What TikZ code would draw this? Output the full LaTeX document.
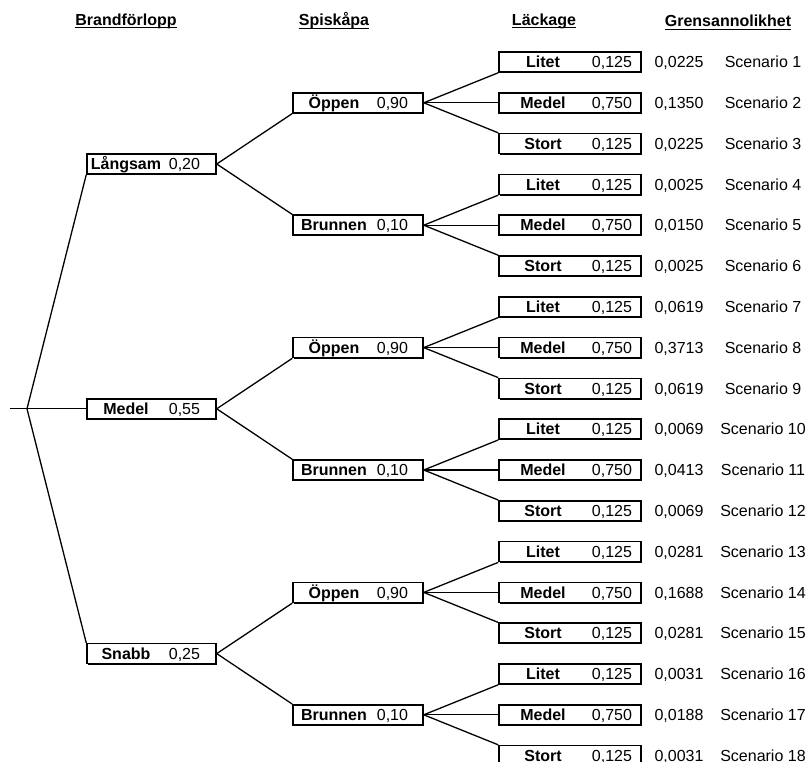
\documentclass[tikz,border=0pt]{standalone}
\usepackage{fontspec}
\setmainfont{Liberation Sans}
\usetikzlibrary{shadows,calc}

\tikzset{
  every node/.append style={font=\fontsize{16}{19}\selectfont},
  box/.style={draw, line width=1.5pt, fill=white, inner sep=0pt,
    minimum height=20pt, text height=11.5pt, text depth=0pt,
    drop shadow={shadow xshift=1.2pt, shadow yshift=-1.2pt, opacity=1, fill=black}},
  conn/.style={line width=1.3pt},
  hdr/.style={inner sep=0pt, font=\fontsize{16}{19}\selectfont\bfseries},
  val/.style={inner sep=0pt, text height=11.5pt, text depth=0pt}
}

\newcommand{\lthreetxt}[2]{\makebox[88pt][c]{\textbf{#1}}\makebox[45pt][r]{#2}\hspace*{9pt}}
\newcommand{\ltwotxt}[2]{\makebox[82pt][c]{\textbf{#1}}\makebox[33pt][r]{#2}\hspace*{15pt}}
\newcommand{\lonetxt}[2]{\makebox[78pt][c]{\textbf{#1}}\makebox[35pt][r]{#2}\hspace*{16pt}}

% name, y, label, number, probability, scenario
\newcommand{\leafrow}[6]{%
  \node[box] (#1) at (570,#2) {\lthreetxt{#3}{#4}};
  \node[val] (#1p) at (679,#2) {#5};
  \node[val] (#1s) at (763,#2) {#6};
}

\begin{document}
\begin{tikzpicture}[x=1pt,y=-1pt]
\useasboundingbox (0,0) rectangle (809,762);

% headers
\node[hdr] (h1) at (126,21) {Brandförlopp};
\node[hdr] (h2) at (334,21) {Spiskåpa};
\node[hdr] (h3) at (544,21) {Läckage};
\node[hdr] (h4) at (728,21) {Grensannolikhet};
\foreach \h in {h1,h2,h3,h4}{
  \draw[line width=1.4pt] ($(\h.base west)+(0,2.6)$) -- ($(\h.base east)+(0,2.6)$);
}

% level 3 rows
\leafrow{q1}{62.0}{Litet}{0,125}{0,0225}{Scenario 1}
\leafrow{q2}{102.8}{Medel}{0,750}{0,1350}{Scenario 2}
\leafrow{q3}{143.6}{Stort}{0,125}{0,0225}{Scenario 3}
\leafrow{q4}{184.4}{Litet}{0,125}{0,0025}{Scenario 4}
\leafrow{q5}{225.2}{Medel}{0,750}{0,0150}{Scenario 5}
\leafrow{q6}{266.0}{Stort}{0,125}{0,0025}{Scenario 6}
\leafrow{q7}{306.8}{Litet}{0,125}{0,0619}{Scenario 7}
\leafrow{q8}{347.6}{Medel}{0,750}{0,3713}{Scenario 8}
\leafrow{q9}{388.4}{Stort}{0,125}{0,0619}{Scenario 9}
\leafrow{q10}{429.2}{Litet}{0,125}{0,0069}{Scenario 10}
\leafrow{q11}{470.0}{Medel}{0,750}{0,0413}{Scenario 11}
\leafrow{q12}{510.8}{Stort}{0,125}{0,0069}{Scenario 12}
\leafrow{q13}{551.6}{Litet}{0,125}{0,0281}{Scenario 13}
\leafrow{q14}{592.4}{Medel}{0,750}{0,1688}{Scenario 14}
\leafrow{q15}{633.2}{Stort}{0,125}{0,0281}{Scenario 15}
\leafrow{q16}{674.0}{Litet}{0,125}{0,0031}{Scenario 16}
\leafrow{q17}{714.8}{Medel}{0,750}{0,0188}{Scenario 17}
\leafrow{q18}{755.6}{Stort}{0,125}{0,0031}{Scenario 18}

% level 2
\node[box] (o1) at (358,102.8) {\ltwotxt{Öppen}{0,90}};
\node[box] (b1) at (358,225.2) {\ltwotxt{Brunnen}{0,10}};
\node[box] (o2) at (358,347.6) {\ltwotxt{Öppen}{0,90}};
\node[box] (b2) at (358,470.0) {\ltwotxt{Brunnen}{0,10}};
\node[box] (o3) at (358,592.4) {\ltwotxt{Öppen}{0,90}};
\node[box] (b3) at (358,714.8) {\ltwotxt{Brunnen}{0,10}};

% level 1
\node[box] (l1) at (151.5,164.0) {\lonetxt{Långsam}{0,20}};
\node[box] (l2) at (151.5,408.8) {\lonetxt{Medel}{0,55}};
\node[box] (l3) at (151.5,653.6) {\lonetxt{Snabb}{0,25}};

% root
\coordinate (root) at (10,408.8);
\coordinate (fork) at (27,408.8);
\draw[conn] (root) -- (l2.west);
\draw[conn] (fork) -- (l1.south west);
\draw[conn] (fork) -- (l3.north west);

% level 1 -> level 2
\draw[conn] (l1.east) -- (o1.south west);
\draw[conn] (l1.east) -- (b1.north west);
\draw[conn] (l2.east) -- (o2.south west);
\draw[conn] (l2.east) -- (b2.north west);
\draw[conn] (l3.east) -- (o3.south west);
\draw[conn] (l3.east) -- (b3.north west);

% level 2 -> level 3
\draw[conn] (o1.east) -- (q1.south west);
\draw[conn] (o1.east) -- (q2.west);
\draw[conn] (o1.east) -- (q3.north west);
\draw[conn] (b1.east) -- (q4.south west);
\draw[conn] (b1.east) -- (q5.west);
\draw[conn] (b1.east) -- (q6.north west);
\draw[conn] (o2.east) -- (q7.south west);
\draw[conn] (o2.east) -- (q8.west);
\draw[conn] (o2.east) -- (q9.north west);
\draw[conn] (b2.east) -- (q10.south west);
\draw[conn] (b2.east) -- (q11.west);
\draw[conn] (b2.east) -- (q12.north west);
\draw[conn] (o3.east) -- (q13.south west);
\draw[conn] (o3.east) -- (q14.west);
\draw[conn] (o3.east) -- (q15.north west);
\draw[conn] (b3.east) -- (q16.south west);
\draw[conn] (b3.east) -- (q17.west);
\draw[conn] (b3.east) -- (q18.north west);
\end{tikzpicture}
\end{document}
